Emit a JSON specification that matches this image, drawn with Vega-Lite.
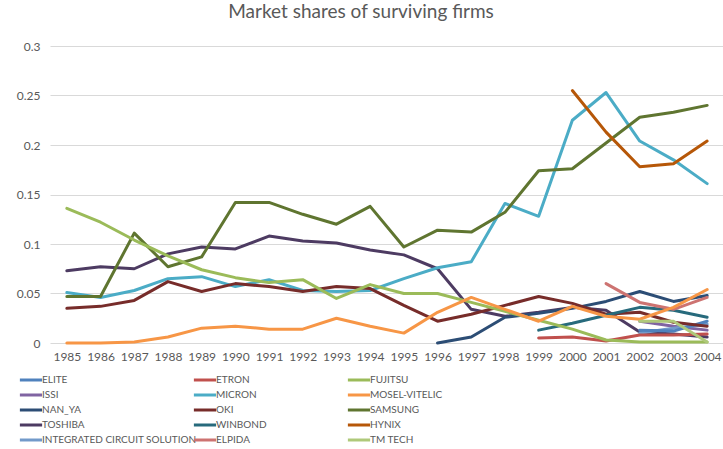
{
  "$schema": "https://vega.github.io/schema/vega-lite/v6.json",
  "autosize": "none",
  "width": 674,
  "height": 297,
  "padding": {"left": 50, "top": 46, "right": 0, "bottom": 106},
  "background": "white",
  "title": {"text": "Market shares of surviving firms", "font": "Lato", "fontSize": 19, "fontWeight": "normal", "color": "#595959", "anchor": "middle", "dx": -26, "offset": 18},
  "datasets": {
    "shares": [
      {"firm":"SAMSUNG","year":"1985","share":0.047},{"firm":"SAMSUNG","year":"1986","share":0.047},{"firm":"SAMSUNG","year":"1987","share":0.111},{"firm":"SAMSUNG","year":"1988","share":0.077},{"firm":"SAMSUNG","year":"1989","share":0.087},{"firm":"SAMSUNG","year":"1990","share":0.142},{"firm":"SAMSUNG","year":"1991","share":0.142},{"firm":"SAMSUNG","year":"1992","share":0.130},{"firm":"SAMSUNG","year":"1993","share":0.120},{"firm":"SAMSUNG","year":"1994","share":0.138},{"firm":"SAMSUNG","year":"1995","share":0.097},{"firm":"SAMSUNG","year":"1996","share":0.114},{"firm":"SAMSUNG","year":"1997","share":0.112},{"firm":"SAMSUNG","year":"1998","share":0.132},{"firm":"SAMSUNG","year":"1999","share":0.174},{"firm":"SAMSUNG","year":"2000","share":0.176},{"firm":"SAMSUNG","year":"2001","share":0.202},{"firm":"SAMSUNG","year":"2002","share":0.228},{"firm":"SAMSUNG","year":"2003","share":0.233},{"firm":"SAMSUNG","year":"2004","share":0.240},
      {"firm":"FUJITSU","year":"1985","share":0.136},{"firm":"FUJITSU","year":"1986","share":0.122},{"firm":"FUJITSU","year":"1987","share":0.104},{"firm":"FUJITSU","year":"1988","share":0.088},{"firm":"FUJITSU","year":"1989","share":0.074},{"firm":"FUJITSU","year":"1990","share":0.066},{"firm":"FUJITSU","year":"1991","share":0.061},{"firm":"FUJITSU","year":"1992","share":0.064},{"firm":"FUJITSU","year":"1993","share":0.045},{"firm":"FUJITSU","year":"1994","share":0.059},{"firm":"FUJITSU","year":"1995","share":0.050},{"firm":"FUJITSU","year":"1996","share":0.050},{"firm":"FUJITSU","year":"1997","share":0.041},{"firm":"FUJITSU","year":"1998","share":0.032},{"firm":"FUJITSU","year":"1999","share":0.023},{"firm":"FUJITSU","year":"2000","share":0.014},{"firm":"FUJITSU","year":"2001","share":0.003},{"firm":"FUJITSU","year":"2002","share":0.001},{"firm":"FUJITSU","year":"2003","share":0.001},{"firm":"FUJITSU","year":"2004","share":0.001},
      {"firm":"TOSHIBA","year":"1985","share":0.073},{"firm":"TOSHIBA","year":"1986","share":0.077},{"firm":"TOSHIBA","year":"1987","share":0.075},{"firm":"TOSHIBA","year":"1988","share":0.090},{"firm":"TOSHIBA","year":"1989","share":0.097},{"firm":"TOSHIBA","year":"1990","share":0.095},{"firm":"TOSHIBA","year":"1991","share":0.108},{"firm":"TOSHIBA","year":"1992","share":0.103},{"firm":"TOSHIBA","year":"1993","share":0.101},{"firm":"TOSHIBA","year":"1994","share":0.094},{"firm":"TOSHIBA","year":"1995","share":0.089},{"firm":"TOSHIBA","year":"1996","share":0.075},{"firm":"TOSHIBA","year":"1997","share":0.034},{"firm":"TOSHIBA","year":"1998","share":0.027},{"firm":"TOSHIBA","year":"1999","share":0.031},{"firm":"TOSHIBA","year":"2000","share":0.036},{"firm":"TOSHIBA","year":"2001","share":0.033},{"firm":"TOSHIBA","year":"2002","share":0.011},{"firm":"TOSHIBA","year":"2003","share":0.009},{"firm":"TOSHIBA","year":"2004","share":0.006},
      {"firm":"MICRON","year":"1985","share":0.051},{"firm":"MICRON","year":"1986","share":0.046},{"firm":"MICRON","year":"1987","share":0.053},{"firm":"MICRON","year":"1988","share":0.065},{"firm":"MICRON","year":"1989","share":0.067},{"firm":"MICRON","year":"1990","share":0.057},{"firm":"MICRON","year":"1991","share":0.064},{"firm":"MICRON","year":"1992","share":0.053},{"firm":"MICRON","year":"1993","share":0.052},{"firm":"MICRON","year":"1994","share":0.053},{"firm":"MICRON","year":"1995","share":0.065},{"firm":"MICRON","year":"1996","share":0.076},{"firm":"MICRON","year":"1997","share":0.082},{"firm":"MICRON","year":"1998","share":0.141},{"firm":"MICRON","year":"1999","share":0.128},{"firm":"MICRON","year":"2000","share":0.225},{"firm":"MICRON","year":"2001","share":0.253},{"firm":"MICRON","year":"2002","share":0.204},{"firm":"MICRON","year":"2003","share":0.185},{"firm":"MICRON","year":"2004","share":0.161},
      {"firm":"OKI","year":"1985","share":0.035},{"firm":"OKI","year":"1986","share":0.037},{"firm":"OKI","year":"1987","share":0.043},{"firm":"OKI","year":"1988","share":0.062},{"firm":"OKI","year":"1989","share":0.052},{"firm":"OKI","year":"1990","share":0.060},{"firm":"OKI","year":"1991","share":0.057},{"firm":"OKI","year":"1992","share":0.052},{"firm":"OKI","year":"1993","share":0.057},{"firm":"OKI","year":"1994","share":0.055},{"firm":"OKI","year":"1995","share":0.038},{"firm":"OKI","year":"1996","share":0.022},{"firm":"OKI","year":"1997","share":0.029},{"firm":"OKI","year":"1998","share":0.038},{"firm":"OKI","year":"1999","share":0.047},{"firm":"OKI","year":"2000","share":0.040},{"firm":"OKI","year":"2001","share":0.029},{"firm":"OKI","year":"2002","share":0.031},{"firm":"OKI","year":"2003","share":0.021},{"firm":"OKI","year":"2004","share":0.017},
      {"firm":"MOSEL-VITELIC","year":"1985","share":0.0},{"firm":"MOSEL-VITELIC","year":"1986","share":0.0},{"firm":"MOSEL-VITELIC","year":"1987","share":0.001},{"firm":"MOSEL-VITELIC","year":"1988","share":0.006},{"firm":"MOSEL-VITELIC","year":"1989","share":0.015},{"firm":"MOSEL-VITELIC","year":"1990","share":0.017},{"firm":"MOSEL-VITELIC","year":"1991","share":0.014},{"firm":"MOSEL-VITELIC","year":"1992","share":0.014},{"firm":"MOSEL-VITELIC","year":"1993","share":0.025},{"firm":"MOSEL-VITELIC","year":"1994","share":0.017},{"firm":"MOSEL-VITELIC","year":"1995","share":0.010},{"firm":"MOSEL-VITELIC","year":"1996","share":0.031},{"firm":"MOSEL-VITELIC","year":"1997","share":0.046},{"firm":"MOSEL-VITELIC","year":"1998","share":0.034},{"firm":"MOSEL-VITELIC","year":"1999","share":0.022},{"firm":"MOSEL-VITELIC","year":"2000","share":0.037},{"firm":"MOSEL-VITELIC","year":"2001","share":0.027},{"firm":"MOSEL-VITELIC","year":"2002","share":0.024},{"firm":"MOSEL-VITELIC","year":"2003","share":0.036},{"firm":"MOSEL-VITELIC","year":"2004","share":0.054},
      {"firm":"NAN_YA","year":"1996","share":0.0},{"firm":"NAN_YA","year":"1997","share":0.006},{"firm":"NAN_YA","year":"1998","share":0.026},{"firm":"NAN_YA","year":"1999","share":0.030},{"firm":"NAN_YA","year":"2000","share":0.035},{"firm":"NAN_YA","year":"2001","share":0.042},{"firm":"NAN_YA","year":"2002","share":0.052},{"firm":"NAN_YA","year":"2003","share":0.042},{"firm":"NAN_YA","year":"2004","share":0.048},
      {"firm":"HYNIX","year":"2000","share":0.255},{"firm":"HYNIX","year":"2001","share":0.213},{"firm":"HYNIX","year":"2002","share":0.178},{"firm":"HYNIX","year":"2003","share":0.181},{"firm":"HYNIX","year":"2004","share":0.204},
      {"firm":"WINBOND","year":"1999","share":0.013},{"firm":"WINBOND","year":"2000","share":0.020},{"firm":"WINBOND","year":"2001","share":0.028},{"firm":"WINBOND","year":"2002","share":0.036},{"firm":"WINBOND","year":"2003","share":0.033},{"firm":"WINBOND","year":"2004","share":0.026},
      {"firm":"ETRON","year":"1999","share":0.005},{"firm":"ETRON","year":"2000","share":0.006},{"firm":"ETRON","year":"2001","share":0.002},{"firm":"ETRON","year":"2002","share":0.008},{"firm":"ETRON","year":"2003","share":0.008},{"firm":"ETRON","year":"2004","share":0.009},
      {"firm":"ELPIDA","year":"2001","share":0.060},{"firm":"ELPIDA","year":"2002","share":0.041},{"firm":"ELPIDA","year":"2003","share":0.034},{"firm":"ELPIDA","year":"2004","share":0.046},
      {"firm":"TM TECH","year":"2002","share":0.022},{"firm":"TM TECH","year":"2003","share":0.022},{"firm":"TM TECH","year":"2004","share":0.001},
      {"firm":"ISSI","year":"2002","share":0.022},{"firm":"ISSI","year":"2003","share":0.017},{"firm":"ISSI","year":"2004","share":0.013},
      {"firm":"INTEGRATED CIRCUIT SOLUTION","year":"2002","share":0.010},{"firm":"INTEGRATED CIRCUIT SOLUTION","year":"2003","share":0.015},{"firm":"INTEGRATED CIRCUIT SOLUTION","year":"2004","share":0.019},
      {"firm":"ELITE","year":"2002","share":0.013},{"firm":"ELITE","year":"2003","share":0.012},{"firm":"ELITE","year":"2004","share":0.022}
    ]
  },
  "data": {"name": "shares"},
  "encoding": {
    "x": {"field": "year", "type": "ordinal", "scale": {"type": "point", "padding": 0.5}, "axis": {"title": null, "labelAngle": 0, "labelFont": "Lato", "labelFontSize": 12, "labelColor": "#595959", "ticks": false, "domain": false, "labelPadding": 8, "grid": false}},
    "y": {"field": "share", "type": "quantitative", "scale": {"domain": [0, 0.3], "nice": false}, "axis": {"title": null, "values": [0, 0.05, 0.1, 0.15, 0.2, 0.25, 0.3], "format": "~g", "labelFont": "Lato", "labelFontSize": 12, "labelColor": "#595959", "ticks": false, "domain": false, "labelPadding": 10, "grid": true, "gridColor": "#d9d9d9", "gridWidth": 1}}
  },
  "layer": [
    {
      "transform": [{"filter": {"field": "firm", "oneOf": ["ELITE","ISSI","NAN_YA","TOSHIBA","INTEGRATED CIRCUIT SOLUTION"]}}],
      "mark": {"type": "line", "strokeWidth": 3, "strokeCap": "round", "strokeJoin": "round"},
      "encoding": {
        "color": {"field": "firm", "type": "nominal",
          "scale": {"domain": ["ELITE","ISSI","NAN_YA","TOSHIBA","INTEGRATED CIRCUIT SOLUTION"], "range": ["#4F81BD","#8064A2","#2C4D75","#4D3B62","#729ACA"]},
          "legend": {"title": null, "orient": "none", "legendX": -28, "legendY": 325, "rowPadding": 0, "symbolType": "M-1.5,0H1.5", "symbolSize": 220, "symbolStrokeWidth": 3, "labelFont": "Lato", "labelFontSize": 10, "labelColor": "#595959", "labelOffset": 2, "labelLimit": 250}}
      }
    },
    {
      "transform": [{"filter": {"field": "firm", "oneOf": ["ETRON","MICRON","OKI","WINBOND","ELPIDA"]}}],
      "mark": {"type": "line", "strokeWidth": 3, "strokeCap": "round", "strokeJoin": "round"},
      "encoding": {
        "color": {"field": "firm", "type": "nominal",
          "scale": {"domain": ["ETRON","MICRON","OKI","WINBOND","ELPIDA"], "range": ["#C0504D","#4BACC6","#772C2A","#276A7C","#CD7371"]},
          "legend": {"title": null, "orient": "none", "legendX": 146, "legendY": 325, "rowPadding": 0, "symbolType": "M-1.5,0H1.5", "symbolSize": 220, "symbolStrokeWidth": 3, "labelFont": "Lato", "labelFontSize": 10, "labelColor": "#595959", "labelOffset": 2, "labelLimit": 250}}
      }
    },
    {
      "transform": [{"filter": {"field": "firm", "oneOf": ["FUJITSU","MOSEL-VITELIC","SAMSUNG","HYNIX","TM TECH"]}}],
      "mark": {"type": "line", "strokeWidth": 3, "strokeCap": "round", "strokeJoin": "round"},
      "encoding": {
        "color": {"field": "firm", "type": "nominal",
          "scale": {"domain": ["FUJITSU","MOSEL-VITELIC","SAMSUNG","HYNIX","TM TECH"], "range": ["#9BBB59","#F79646","#5F7530","#B65708","#AFC97A"]},
          "legend": {"title": null, "orient": "none", "legendX": 300, "legendY": 325, "rowPadding": 0, "symbolType": "M-1.5,0H1.5", "symbolSize": 220, "symbolStrokeWidth": 3, "labelFont": "Lato", "labelFontSize": 10, "labelColor": "#595959", "labelOffset": 2, "labelLimit": 250}}
      }
    }
  ],
  "resolve": {"scale": {"color": "independent"}, "legend": {"color": "independent"}},
  "config": {"view": {"stroke": null}}
}
